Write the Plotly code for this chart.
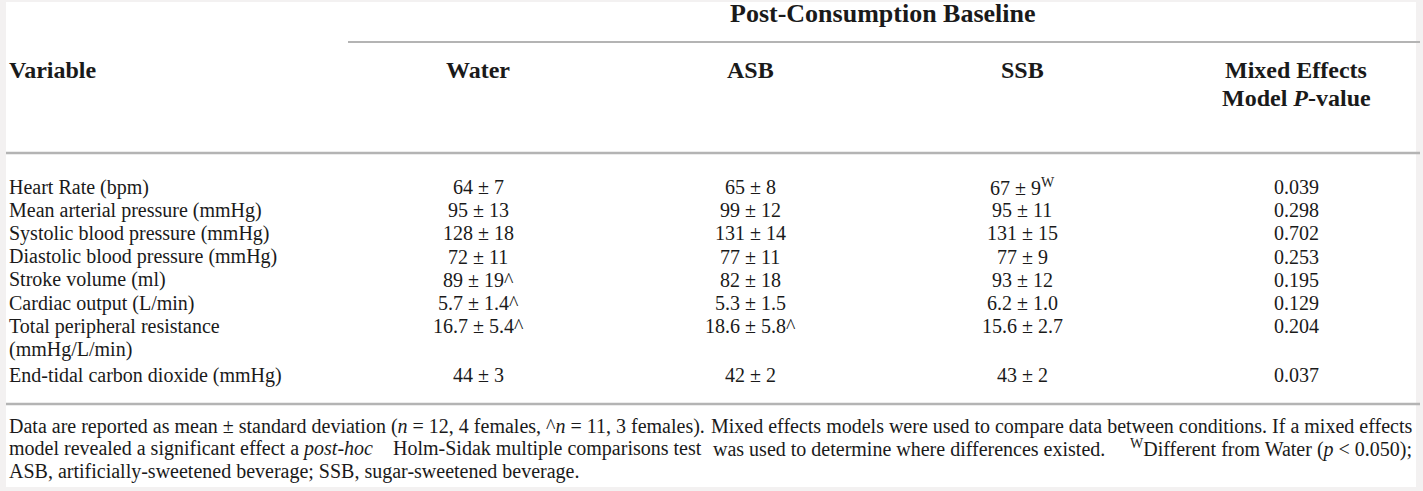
import plotly.graph_objects as go

# ---------------- data ----------------
group_title = "Post-Consumption Baseline"
col_headers = ["Water", "ASB", "SSB", "Mixed Effects<br>Model <i>P</i>-value"]
variables = [
    "Heart Rate (bpm)",
    "Mean arterial pressure (mmHg)",
    "Systolic blood pressure (mmHg)",
    "Diastolic blood pressure (mmHg)",
    "Stroke volume (ml)",
    "Cardiac output (L/min)",
    "Total peripheral resistance<br>(mmHg/L/min)",
    "End-tidal carbon dioxide (mmHg)",
]
water = ["64 ± 7", "95 ± 13", "128 ± 18", "72 ± 11", "89 ± 19^", "5.7 ± 1.4^", "16.7 ± 5.4^", "44 ± 3"]
asb = ["65 ± 8", "99 ± 12", "131 ± 14", "77 ± 11", "82 ± 18", "5.3 ± 1.5", "18.6 ± 5.8^", "42 ± 2"]
ssb = ["67 ± 9<sup>W</sup>", "95 ± 11", "131 ± 15", "77 ± 9", "93 ± 12", "6.2 ± 1.0", "15.6 ± 2.7", "43 ± 2"]
p_values = ["0.039", "0.298", "0.702", "0.253", "0.195", "0.129", "0.204", "0.037"]
# each footnote line is split into chunks: (left-anchored, right-anchored at middle, left-anchored at middle, right-anchored)
footnote_lines = [
    ["Data are reported as mean ± standard deviation (<i>n</i> = 12, 4 females, ^<i>n</i> = 11, 3 females).",
     "Mixed effects models were used to compare data between conditions. If a mixed effects"],
    ["model revealed a significant effect a <i>post-hoc</i>",
     "Holm-Sidak multiple comparisons test",
     "was used to determine where differences existed.",
     "<sup>W</sup>Different from Water (<i>p</i> < 0.050);"],
    ["ASB, artificially-sweetened beverage; SSB, sugar-sweetened beverage."],
]

# ---------------- layout constants ----------------
W, H = 1423, 491
FONT = "Liberation Serif"
TXT = "#1a1a1a"
RULE = "#b4b4b4"
LEFT, RIGHT = 7, 1414
MID_L, MID_R = 704, 711
col_x = [478, 750, 1022, 1296]
row_y0, row_h = 187, 23.2
body_size = 20
head_size = 24

fig = go.Figure()
fig.add_trace(go.Scatter(x=[0, W], y=[0, H], mode="markers", marker=dict(opacity=0),
                         hoverinfo="skip", showlegend=False))

ann = []
def add(text, x, y, xa="center", size=body_size, bold=False):
    if bold:
        text = "<b>" + text + "</b>"
    ann.append(dict(text=text, x=x, y=y, xref="x", yref="y", xanchor=xa, yanchor="middle",
                    showarrow=False, font=dict(family=FONT, size=size, color=TXT)))

# header
add(group_title, 883, 13, size=head_size + 2, bold=True)
add("Variable", LEFT, 70, xa="left", size=head_size, bold=True)
for i, h in enumerate(col_headers):
    for j, ln in enumerate(h.split("<br>")):
        add(ln, col_x[i], 70 + j * 28, size=head_size, bold=True)

# body
y = row_y0
for k, var in enumerate(variables):
    lines = var.split("<br>")
    for j, ln in enumerate(lines):
        add(ln, LEFT, y + j * row_h, xa="left")
    for ci, col in enumerate([water, asb, ssb, p_values]):
        add(col[k], col_x[ci], y)
    y += row_h * len(lines) + (2.5 if len(lines) > 1 else 0)

# footnotes (approximate justification with chunks)
for i, chunks in enumerate(footnote_lines):
    fy = 426 + i * 22.5
    if len(chunks) == 1:
        add(chunks[0], LEFT, fy, xa="left")
    elif len(chunks) == 2:
        add(chunks[0], LEFT, fy, xa="left")
        add(chunks[1], RIGHT, fy, xa="right")
    else:
        add(chunks[0], LEFT, fy, xa="left")
        add(chunks[1], MID_L, fy, xa="right")
        add(chunks[2], MID_R, fy, xa="left")
        add(chunks[3], RIGHT, fy, xa="right")

shapes = [
    dict(type="rect", xref="x", yref="y", x0=6, x1=1416, y0=2, y1=487,
         fillcolor="white", line=dict(width=0), layer="below"),
    dict(type="line", xref="x", yref="y", x0=348, x1=1420, y0=42, y1=42, line=dict(color=RULE, width=2)),
    dict(type="line", xref="x", yref="y", x0=6, x1=1420, y0=153, y1=153, line=dict(color=RULE, width=2.5)),
    dict(type="line", xref="x", yref="y", x0=6, x1=1420, y0=404, y1=404, line=dict(color=RULE, width=2.5)),
]

fig.update_layout(
    width=W, height=H, margin=dict(l=0, r=0, t=0, b=0),
    paper_bgcolor="#f3f1f1", plot_bgcolor="#f3f1f1",
    xaxis=dict(range=[0, W], visible=False, fixedrange=True),
    yaxis=dict(range=[H, 0], visible=False, fixedrange=True),
    annotations=ann, shapes=shapes, showlegend=False,
)
fig.write_html("out.html", config={"displayModeBar": False, "staticPlot": True},
               post_script="document.body.style.margin='0px';document.body.style.overflow='hidden';")
